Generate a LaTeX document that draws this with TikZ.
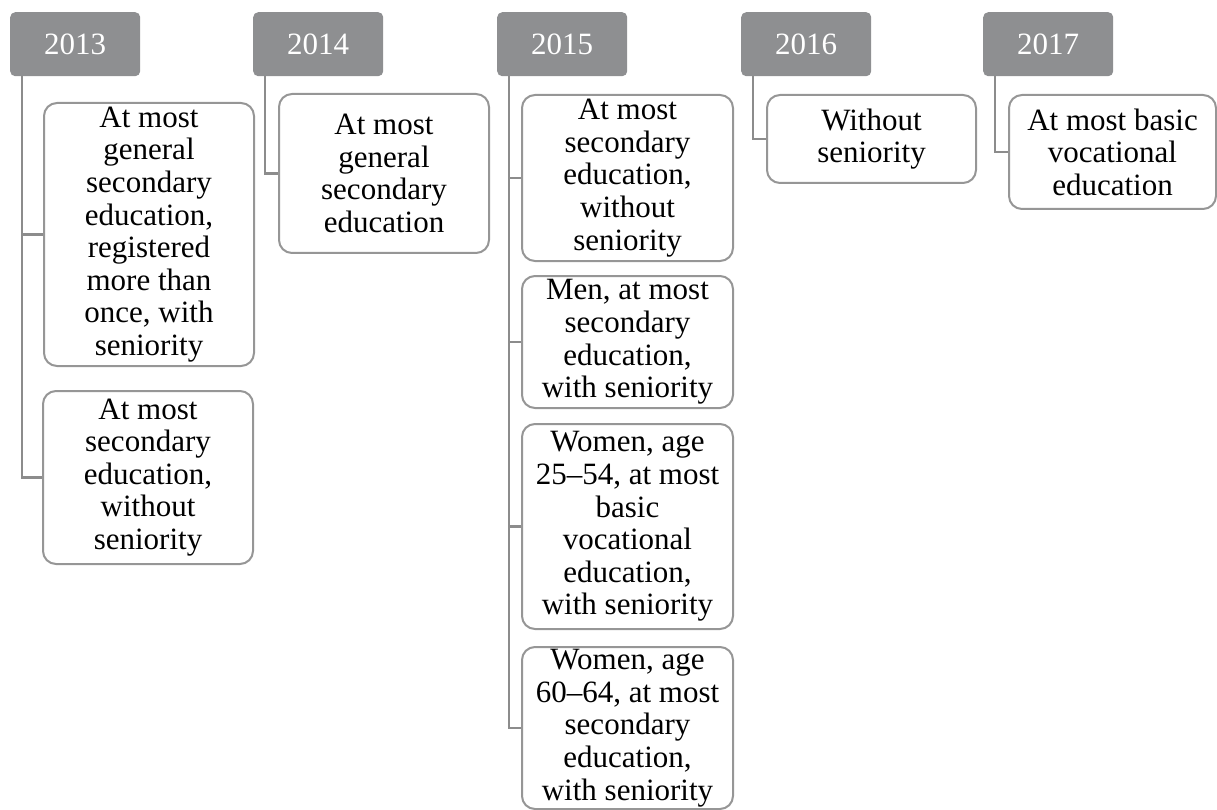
\documentclass[tikz,border=0pt]{standalone}
\usepackage{fontspec}
\setmainfont{Liberation Serif}
\definecolor{yeargray}{HTML}{8E8F91}
\definecolor{linegray}{HTML}{8C8C8C}
\definecolor{boxgray}{HTML}{969696}
\begin{document}
\begin{tikzpicture}[x=1pt,y=-1pt,
  yearbox/.style={fill=yeargray, rounded corners=5pt, minimum width=130pt, minimum height=64pt,
    inner sep=0pt, anchor=north west, text=white, font=\fontsize{31}{33}\selectfont},
  itembox/.style={draw=boxgray, line width=2pt, rounded corners=13pt, fill=white,
    inner sep=0pt, anchor=north west, align=center, font=\fontsize{31}{32.6}\selectfont},
  conn/.style={draw=linegray, line width=2.2pt}]
\useasboundingbox (0,0) rectangle (1217,810);
% year boxes
\node[yearbox] (y13) at (10,12) {2013};
\node[yearbox] (y14) at (253,12) {2014};
\node[yearbox] (y15) at (497,12) {2015};
\node[yearbox] (y16) at (741,12) {2016};
\node[yearbox] (y17) at (983,12) {2017};
% items
\node[itembox, minimum width=210pt, minimum height=263pt] (c13a) at (43,102)
  {At most\\general\\secondary\\education,\\registered\\more than\\once, with\\seniority};
\node[itembox, minimum width=210pt, minimum height=173pt] (c13b) at (42,390)
  {At most\\secondary\\education,\\without\\seniority};
\node[itembox, minimum width=210pt, minimum height=159pt] (c14) at (278,93)
  {At most\\general\\secondary\\education};
\node[itembox, minimum width=211pt, minimum height=166pt] (c15a) at (521,94)
  {At most\\secondary\\education,\\without\\seniority};
\node[itembox, minimum width=211pt, minimum height=132pt] (c15b) at (521,275)
  {Men, at most\\secondary\\education,\\with seniority};
\node[itembox, minimum width=211pt, minimum height=205pt] (c15c) at (521,423)
  {Women, age\\25–54, at most\\basic\\vocational\\education,\\with seniority};
\node[itembox, minimum width=211pt, minimum height=162pt] (c15d) at (521,646)
  {Women, age\\60–64, at most\\secondary\\education,\\with seniority};
\node[itembox, minimum width=209pt, minimum height=88pt] (c16) at (766,94)
  {Without\\seniority};
\node[itembox, minimum width=207pt, minimum height=114pt] (c17) at (1008,94)
  {At most basic\\vocational\\education};
% connectors
\draw[conn] ([xshift=12pt]y13.south west) |- (c13b.west);
\draw[conn] ([xshift=12pt]y13.south west) |- (c13a.west);
\draw[conn] ([xshift=12pt]y14.south west) |- (c14.west);
\draw[conn] ([xshift=12pt]y15.south west) |- (c15d.west);
\draw[conn] ([xshift=12pt]y15.south west) |- (c15a.west);
\draw[conn] ([xshift=12pt]y15.south west) |- (c15b.west);
\draw[conn] ([xshift=12pt]y15.south west) |- (c15c.west);
\draw[conn] ([xshift=12pt]y16.south west) |- (c16.west);
\draw[conn] ([xshift=12pt]y17.south west) |- (c17.west);
\end{tikzpicture}
\end{document}
